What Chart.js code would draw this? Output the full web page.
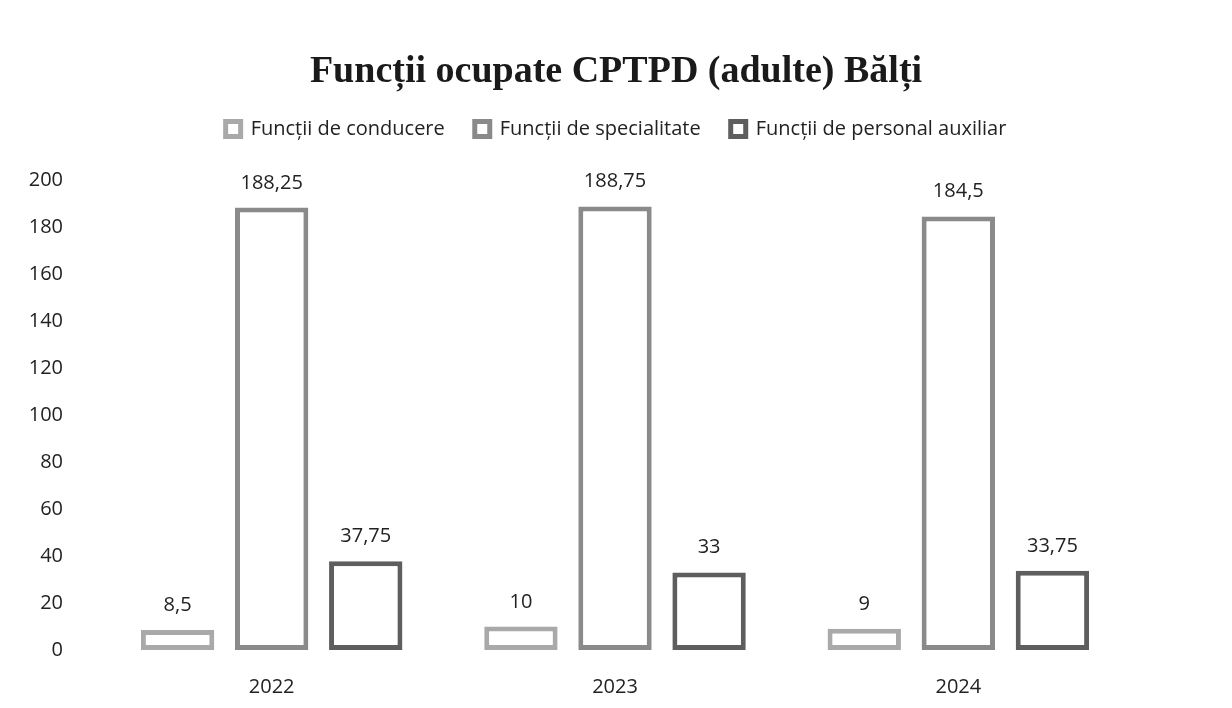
<!DOCTYPE html>
<html>
<head>
<meta charset="utf-8">
<script src="https://cdn.jsdelivr.net/npm/chart.js@4/dist/chart.umd.min.js"></script>
<style>
  body { margin: 0; background: #fff; }
  #wrap { width: 1232px; height: 708px; }
</style>
</head>
<body>
<div id="wrap"><canvas id="funcgraph" width="1232" height="708"></canvas></div>
<script>
const years = ["2022", "2023", "2024"];
const conducere = [8.5, 10, 9];
const specialitate = [188.25, 188.75, 184.5];
const auxiliar = [37.75, 33, 33.75];
const seriesNames = ["Funcții de conducere", "Funcții de specialitate", "Funcții de personal auxiliar"];
const yTicks = [0, 20, 40, 60, 80, 100, 120, 140, 160, 180, 200];
const chartTitle = "Funcții ocupate CPTPD (adulte) Bălți";

const fontName = "'Open Sans', 'Noto Sans', sans-serif";

// title drawn by hand so it sits centred on the whole page
const pageTitle = {
  id: "pageTitle",
  afterDraw(chart) {
    const ctx = chart.ctx;
    ctx.save();
    ctx.font = "bold 38px 'Liberation Serif', 'DejaVu Serif', serif";
    ctx.fillStyle = "#1a1a1a";
    ctx.textAlign = "center";
    ctx.textBaseline = "middle";
    ctx.fillText(chartTitle, 616, 72);
    ctx.restore();
  }
};

// values above each bar, comma decimals
const valueLabels = {
  id: "valueLabels",
  afterDatasetsDraw(chart) {
    const ctx = chart.ctx;
    ctx.save();
    ctx.font = "20px " + fontName;
    ctx.fillStyle = "#222";
    ctx.textAlign = "center";
    ctx.textBaseline = "alphabetic";
    chart.data.datasets.forEach((ds, i) => {
      chart.getDatasetMeta(i).data.forEach((bar, j) => {
        const txt = String(ds.data[j]).replace(".", ",");
        ctx.fillText(txt, bar.x, bar.y - 19);
      });
    });
    ctx.restore();
  }
};

function makeSet(label, data, color) {
  return {
    label: label,
    data: data,
    backgroundColor: "#ffffff",
    borderColor: color,
    borderWidth: 5,
    borderSkipped: false,
    categoryPercentage: 0.822,
    barPercentage: 0.78
  };
}

const ctx = document.getElementById("funcgraph").getContext("2d");
const chart = new Chart(ctx, {
  type: "bar",
  data: {
    labels: years,
    datasets: [
      makeSet(seriesNames[0], conducere, "#a9a9a9"),
      makeSet(seriesNames[1], specialitate, "#8a8a8a"),
      makeSet(seriesNames[2], auxiliar, "#5e5e5e")
    ]
  },
  plugins: [valueLabels, pageTitle],
  options: {
    responsive: false,
    animation: false,
    layout: { padding: { left: 0, right: 0, top: 89, bottom: 0 } },
    scales: {
      y: {
        min: 0,
        max: 200,
        afterBuildTicks(axis) {
          axis.ticks = yTicks.map(v => ({ value: v }));
        },
        afterFit(axis) { axis.width = 100; },
        grid: { display: false, drawTicks: false },
        border: { display: false },
        ticks: { color: "#222", font: { size: 20, family: fontName }, padding: 37 }
      },
      x: {
        afterFit(axis) { axis.height = 58; },
        grid: { display: false, drawTicks: false },
        border: { display: false },
        ticks: { color: "#222", font: { size: 20, family: fontName }, padding: 25 }
      }
    },
    plugins: {
      // empty title on the right keeps room there, so the legend stays centred on the page
      title: {
        display: true,
        text: "",
        position: "right",
        fullSize: false,
        font: { size: 2, lineHeight: 1 },
        padding: 50
      },
      // empty subtitle only used as a gap between legend and plot
      subtitle: {
        display: true,
        text: "",
        weight: 500,
        font: { size: 1, lineHeight: 1 },
        padding: 15
      },
      legend: {
        labels: {
          color: "#222",
          boxWidth: 15,
          boxHeight: 15,
          padding: 30,
          font: { size: 20, family: fontName }
        }
      },
      tooltip: { enabled: false }
    }
  }
});
</script>
</body>
</html>
